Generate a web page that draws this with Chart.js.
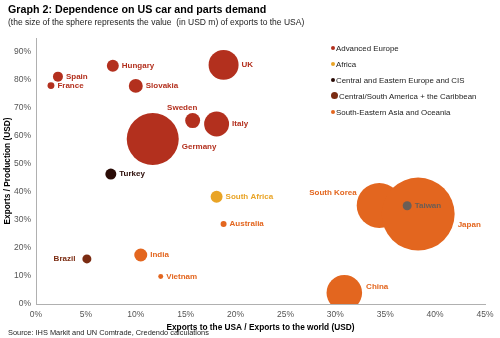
<!DOCTYPE html>
<html>
<head>
<meta charset="utf-8">
<script src="https://cdn.jsdelivr.net/npm/chart.js@4.4.1/dist/chart.umd.min.js"></script>
<style>
  body { margin: 0; background: #fff; font-family: "Liberation Sans", Arial, sans-serif; }
  #wrap { position: relative; width: 500px; height: 338px; }
  #title { position: absolute; left: 8px; top: 3px; font-size: 10.7px; font-weight: bold; color: #000; }
  #sub { position: absolute; left: 8px; top: 17px; font-size: 8.5px; color: #222; }
  #src { position: absolute; left: 8px; top: 328px; font-size: 7.4px; color: #222; }
  #legend { position: absolute; left: 331px; top: 43px; font-size: 7.9px; color: #222; }
  #legend div { height: 16px; line-height: 12px; white-space: nowrap; }
  #legend span { display: inline-block; border-radius: 50%; vertical-align: middle; margin-right: 1px; position: relative; top: -1px; }
</style>
</head>
<body>
<div id="wrap">
  <canvas id="bubbleChart" width="500" height="338"></canvas>
  <div id="title">Graph 2: Dependence on US car and parts demand</div>
  <div id="sub">(the size of the sphere represents the value&nbsp; (in USD m) of exports to the USA)</div>
  <div id="legend"></div>
  <div id="src">Source: IHS Markit and UN Comtrade, Credendo calculations</div>
</div>
<script>
// regions (legend order)
var regions = ['Advanced Europe', 'Africa', 'Central and Eastern Europe and CIS', 'Central/South America + the Caribbean', 'South-Eastern Asia and Oceania'];
var regionColors = ['#b3301e', '#e9a426', '#2a0b06', '#7b2c12', '#e3661f'];

// countries and values
var countries   = ['Spain', 'France', 'Hungary', 'Slovakia', 'UK', 'Sweden', 'Italy', 'Germany', 'Turkey', 'South Africa', 'Australia', 'Brazil', 'India', 'Vietnam', 'South Korea', 'Japan', 'Taiwan', 'China'];
var regionOf    = [0, 0, 0, 0, 0, 0, 0, 0, 2, 1, 4, 3, 4, 4, 4, 4, 4, 4];
var usShare     = [2.2, 1.5, 7.7, 10.0, 18.8, 15.7, 18.1, 11.7, 7.5, 18.1, 18.8, 5.1, 10.5, 12.5, 34.4, 38.3, 37.2, 30.9];   // x, %
var prodShare   = [81.2, 78.0, 85.1, 77.9, 85.4, 65.5, 64.3, 58.9, 46.4, 38.3, 28.6, 16.1, 17.5, 9.8, 35.2, 32.1, 35.1, 4.0]; // y, %
var usExports   = [1050, 500, 1500, 2050, 9450, 2350, 6550, 28400, 1270, 1500, 380, 850, 1770, 260, 21300, 56000, 850, 13300]; // USD m

var xTicksMax = 45;
var yTicksMax = 90;

// label placement per country (default: right of the bubble)
var labelPlace = {
  'Sweden': 'topLeft', 'Germany': 'rightBelow', 'Japan': 'rightBelow', 'South Korea': 'leftAbove',
  'China': 'rightAbove', 'Brazil': 'left'
};
var specialColor = { 'Taiwan': '#6b5e56' };

function bubbleR(v) {
  return 36.5 * Math.sqrt(v / 56000);
}

var datasets = [];
for (var r = 0; r < regions.length; r++) {
  var pts = [];
  var names = [];
  for (var i = 0; i < countries.length; i++) {
    if (regionOf[i] === r) {
      pts.push({ x: usShare[i], y: prodShare[i], r: bubbleR(usExports[i]) });
      names.push(countries[i]);
    }
  }
  (function (names, col) {
    datasets.push({
      label: regions[r],
      data: pts,
      names: names,
      backgroundColor: function (ctx) { return specialColor[names[ctx.dataIndex]] || col; },
      borderWidth: 0,
      hoverBorderWidth: 0,
      hoverRadius: 0,
      clip: 0
    });
  })(names, regionColors[r]);
}

// legend
var leg = document.getElementById('legend');
regions.forEach(function (name, i) {
  var d = i === 3 ? 7 : 4;
  leg.innerHTML += '<div><span style="width:' + d + 'px;height:' + d + 'px;background:' + regionColors[i] + '"></span>' + name + '</div>';
});

var pointLabels = {
  id: 'pointLabels',
  afterDatasetsDraw: function (chart) {
    var c = chart.ctx;
    c.save();
    c.font = 'bold 8px "Liberation Sans", Arial, sans-serif';
    chart.data.datasets.forEach(function (ds, di) {
      var meta = chart.getDatasetMeta(di);
      meta.data.forEach(function (el, j) {
        var name = ds.names[j];
        var rad = el.options.radius;
        var place = labelPlace[name] || 'right';
        var x = el.x, y = el.y;
        c.fillStyle = specialColor[name] || regionColors[di];
        c.textBaseline = 'middle';
        if (place === 'right') { c.textAlign = 'left'; x += rad + 3; }
        else if (place === 'left') { c.textAlign = 'right'; x -= rad + 7; }
        else if (place === 'rightBelow') { c.textAlign = 'left'; x += rad + 3; y += rad * 0.3; }
        else if (place === 'rightAbove') { c.textAlign = 'left'; x += rad + 4; y -= rad * 0.33; }
        else if (place === 'leftAbove') { c.textAlign = 'right'; x -= rad; y -= rad * 0.55; }
        else if (place === 'topLeft') { c.textAlign = 'center'; x -= rad * 1.4; y -= rad + 5; }
        c.fillText(name, x, y);
      });
    });
    c.restore();
  }
};

var tickFont = { family: '"Liberation Sans", Arial, sans-serif', size: 8.5 };
var titleFont = { family: '"Liberation Sans", Arial, sans-serif', size: 8.3, weight: 'bold' };

new Chart(document.getElementById('bubbleChart').getContext('2d'), {
  type: 'bubble',
  data: { datasets: datasets },
  plugins: [pointLabels],
  options: {
    responsive: false,
    animation: false,
    events: [],
    layout: { autoPadding: false, padding: { left: 0, right: 15, top: 38, bottom: 0 } },
    plugins: { legend: { display: false }, tooltip: { enabled: false } },
    scales: {
      x: {
        type: 'linear',
        min: 0, max: xTicksMax,
        ticks: { stepSize: 5, color: '#555', font: tickFont, padding: 6, maxRotation: 0,
          callback: function (v) { return v + '%'; } },
        grid: { display: false, drawTicks: false },
        border: { color: '#b0b0b0' },
        title: { display: true, text: 'Exports to the USA / Exports to the world (USD)', color: '#000',
          font: titleFont, padding: { top: 0, bottom: 5 } },
        afterFit: function (s) { s.height = 34; s.paddingLeft = 0; s.paddingRight = 0; }
      },
      y: {
        type: 'linear',
        min: 0, max: 95,
        ticks: { stepSize: 10, color: '#555', font: tickFont, padding: 5,
          callback: function (v) { return v + '%'; } },
        afterBuildTicks: function (s) { s.ticks = s.ticks.filter(function (t) { return t.value <= yTicksMax; }); },
        grid: { display: false, drawTicks: false },
        border: { color: '#b0b0b0' },
        title: { display: true, text: 'Exports / Production (USD)', color: '#000',
          font: titleFont, padding: { top: 3, bottom: 0 } },
        afterFit: function (s) { s.width = 36; s.paddingTop = 0; s.paddingBottom = 0; }
      }
    }
  }
});
</script>
</body>
</html>
